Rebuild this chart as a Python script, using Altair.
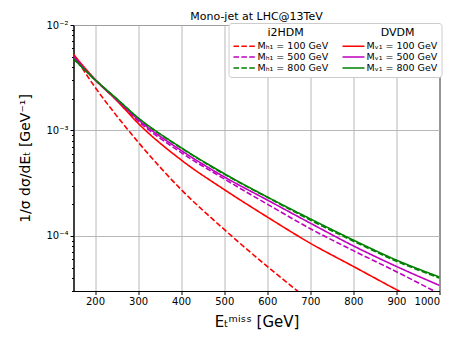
import altair as alt
import pandas as pd

# ---- data ----
x_vals = [150, 200, 250, 300, 400, 500, 600, 700, 800, 900, 1000]
h100 = [5.25e-3, 2.57e-3, 1.38e-3, 7.76e-4, 2.75e-4, 1.15e-4, 5.13e-5, 2.40e-5]
h500 = [5.01e-3, 3.03e-3, 1.95e-3, 1.23e-3, 6.17e-4, 3.47e-4, 2.00e-4, 1.17e-4, 7.24e-5, 4.57e-5, 2.82e-5]
h800 = [4.79e-3, 3.03e-3, 2.00e-3, 1.31e-3, 6.80e-4, 3.85e-4, 2.32e-4, 1.41e-4, 8.91e-5, 5.75e-5, 3.98e-5]
v100 = [5.25e-3, 3.05e-3, 1.93e-3, 1.17e-3, 5.25e-4, 2.75e-4, 1.51e-4, 8.51e-5, 5.13e-5, 3.09e-5, 1.91e-5]
v500 = [5.01e-3, 3.03e-3, 1.97e-3, 1.27e-3, 6.46e-4, 3.63e-4, 2.19e-4, 1.32e-4, 8.04e-5, 5.13e-5, 3.39e-5]
v800 = [4.79e-3, 3.03e-3, 2.00e-3, 1.32e-3, 6.87e-4, 3.89e-4, 2.34e-4, 1.45e-4, 9.12e-5, 5.89e-5, 4.07e-5]

labels = ["Mₕ₁ = 100 GeV", "Mₕ₁ = 500 GeV", "Mₕ₁ = 800 GeV",
          "Mᵥ₁ = 100 GeV", "Mᵥ₁ = 500 GeV", "Mᵥ₁ = 800 GeV"]
series_vals = [h100, h500, h800, v100, v500, v800]
colors = ["#ff0000", "#bf00bf", "#008000", "#ff0000", "#bf00bf", "#008000"]
dashes = [[5.5, 2.4], [5.5, 2.4], [5.5, 2.4], [1, 0], [1, 0], [1, 0]]

x_ticks = [200, 300, 400, 500, 600, 700, 800, 900, 1000]
y_ticks = [3e-5, 4e-5, 5e-5, 6e-5, 7e-5, 8e-5, 9e-5, 0.0001,
           2e-4, 3e-4, 4e-4, 5e-4, 6e-4, 7e-4, 8e-4, 9e-4, 0.001,
           2e-3, 3e-3, 4e-3, 5e-3, 6e-3, 7e-3, 8e-3, 9e-3, 0.01]

rows = []
for lab, vals in zip(labels, series_vals):
    for x, y in zip(x_vals, vals):
        rows.append({"x": x, "y": y, "series": lab})
df = pd.DataFrame(rows)

major = "(datum.value == 0.01 || datum.value == 0.001 || datum.value == 0.0001)"
nb = "\u00a0"
legend_title = "\u200b" + nb * 10 + "i2HDM" + nb * 22 + "DVDM"

leg = alt.Legend(
    title=legend_title, orient="none", legendX=155, legendY=-2,
    columns=2, columnPadding=10, rowPadding=-2,
    symbolType="M-1,0H3.4", symbolSize=100, symbolStrokeWidth=1.6,
    labelFontSize=9.5, labelFont="DejaVu Sans", labelOffset=13, labelColor="black",
    titleFontSize=11, titleFont="DejaVu Sans", titleFontWeight="normal", titleColor="black",
    titleAnchor="start", titlePadding=2, titleLimit=260, padding=4,
    fillColor="white", strokeColor="#cccccc", cornerRadius=3,
)

chart = alt.Chart(df).mark_line(strokeWidth=1.6, clip=True, interpolate="monotone").encode(
    x=alt.X("x:Q", scale=alt.Scale(domain=[150, 1000], nice=False, zero=False),
            axis=alt.Axis(values=x_ticks, format="d", title="Eₜᵐⁱˢˢ [GeV]", titleFontSize=15,
                          titleFont="DejaVu Sans", titleFontWeight="normal", titleColor="black",
                          titleY=30, titleBaseline="middle",
                          labelFontSize=10, labelFont="DejaVu Sans", tickSize=3.5,
                          labelPadding=2, gridColor="#b0b0b0", gridWidth=0.9,
                          domainColor="black", tickColor="black", labelColor="black")),
    y=alt.Y("y:Q", scale=alt.Scale(type="log", domain=[3e-5, 1e-2], nice=False),
            axis=alt.Axis(values=y_ticks, title="1/σ dσ/dEₜ [GeV⁻¹]", titleFontSize=14,
                          titleFont="DejaVu Sans", titleFontWeight="normal", titleColor="black",
                          titleX=-48, titleY=133, titleAlign="center", titleBaseline="middle",
                          labelFontSize=10, labelFont="DejaVu Sans", labelColor="black",
                          labelExpr="datum.value == 0.01 ? '10⁻²' : datum.value == 0.001 ? '10⁻³' : datum.value == 0.0001 ? '10⁻⁴' : ''",
                          tickSize={"condition": {"test": major, "value": 3.5}, "value": 2},
                          gridOpacity={"condition": {"test": major, "value": 1}, "value": 0},
                          gridColor="#b0b0b0", gridWidth=0.9, labelPadding=2,
                          domainColor="black", tickColor="black")),
    color=alt.Color("series:N", scale=alt.Scale(domain=labels, range=colors), legend=leg),
    strokeDash=alt.StrokeDash("series:N", scale=alt.Scale(domain=labels, range=dashes), legend=leg),
).properties(
    width=366, height=266,
    title=alt.TitleParams("Mono-jet at LHC@13TeV", fontSize=11, font="DejaVu Sans",
                          fontWeight="normal", offset=6, anchor="middle", frame="group",
                          color="black", dy=8),
    autosize=alt.AutoSizeParams(type="none"),
    padding={"left": 65.5, "top": 17, "right": 15, "bottom": 40},
).configure_view(stroke="black", strokeWidth=1)

chart.save("out.html", embed_options={"renderer": "svg", "actions": False})
